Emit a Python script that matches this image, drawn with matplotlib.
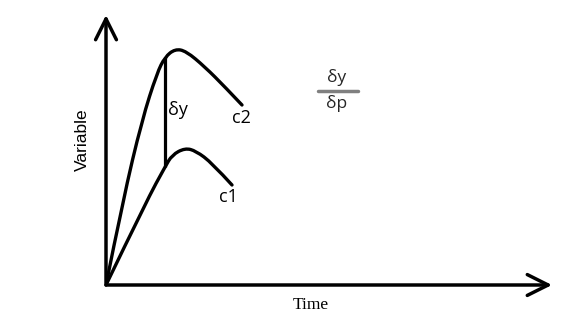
import numpy as np
import matplotlib
matplotlib.use('Agg')
import matplotlib.pyplot as plt
from matplotlib.path import Path
from matplotlib.patches import PathPatch

# Curvas (tiempo, variable)
time_c2 = [0, 17, 36, 51, 59, 69, 80, 99, 119, 136]
var_c2 = [0, 85, 165, 212, 228, 236, 234, 218, 198, 180]

time_c1 = [0, 41, 59, 66, 79, 90, 106, 126]
var_c1 = [0, 85, 118, 130, 137, 134, 122, 100]

# Punto donde se mide delta y
t_dy = 59

labels = ['c1', 'c2']
x_label = 'Time'
y_label = 'Variable'


def smooth_path(xs, ys):
    # curva suave que usa los puntos como controles (cuadraticas entre puntos medios)
    pts = list(zip(xs, ys))
    verts = [pts[0]]
    codes = [Path.MOVETO]
    for i in range(1, len(pts) - 1):
        ctrl = pts[i]
        if i == len(pts) - 2:
            end = pts[i + 1]
        else:
            end = ((pts[i][0] + pts[i + 1][0]) / 2, (pts[i][1] + pts[i + 1][1]) / 2)
        verts += [ctrl, end]
        codes += [Path.CURVE3, Path.CURVE3]
    return Path(verts, codes)


fig = plt.figure(figsize=(5.71, 3.24), dpi=100)
ax = fig.add_axes([106 / 571, 39 / 324, 446 / 571, 270 / 324])
ax.set_xlim(0, 446)
ax.set_ylim(0, 270)
ax.axis('off')

for xs, ys in [(time_c2, var_c2), (time_c1, var_c1)]:
    ax.add_patch(PathPatch(smooth_path(xs, ys), fill=False, lw=2.4,
                           edgecolor='black', capstyle='round', joinstyle='round'))

# linea vertical delta y
y_low = var_c1[time_c1.index(t_dy)]
y_high = var_c2[time_c2.index(t_dy)]
ax.vlines(t_dy, y_low, y_high, color='black', lw=2.3)

# ejes con flechas
arrow = dict(arrowstyle='->,head_length=1.0,head_width=0.5', lw=2.5, color='black',
             shrinkA=0, shrinkB=0, mutation_scale=15)
ax.annotate('', xy=(446, 0), xytext=(0, 0), arrowprops=arrow, annotation_clip=False)
ax.annotate('', xy=(0, 270), xytext=(0, 0), arrowprops=arrow, annotation_clip=False)

sans = ['Open Sans', 'DejaVu Sans']
ax.text(t_dy + 13, 175, 'δy', fontsize=13, family=sans, va='center', ha='center')
ax.text(time_c2[-1] - 1, 167, labels[1], fontsize=13, family=sans, va='center', ha='center')
ax.text(time_c1[-1] - 4, 88, labels[0], fontsize=13, family=sans, va='center', ha='center')

# fraccion dy/dp
ax.text(231, 207, 'δy', fontsize=12.5, family=sans, va='center', ha='center', color='#262626')
ax.text(231, 182, 'δp', fontsize=12.5, family=sans, va='center', ha='center', color='#262626')
ax.plot([212, 252], [194, 194], color='#808080', lw=2.5, solid_capstyle='round')

fig.text(82 / 571, 1 - 140 / 324, y_label, rotation=90, fontsize=12.5,
         family='Liberation Sans', ha='center', va='center')
fig.text(311 / 571, 1 - 305 / 324, x_label, fontsize=12.5,
         family='Liberation Serif', ha='center', va='center')

fig.savefig('out.png', dpi=100, facecolor='white')
